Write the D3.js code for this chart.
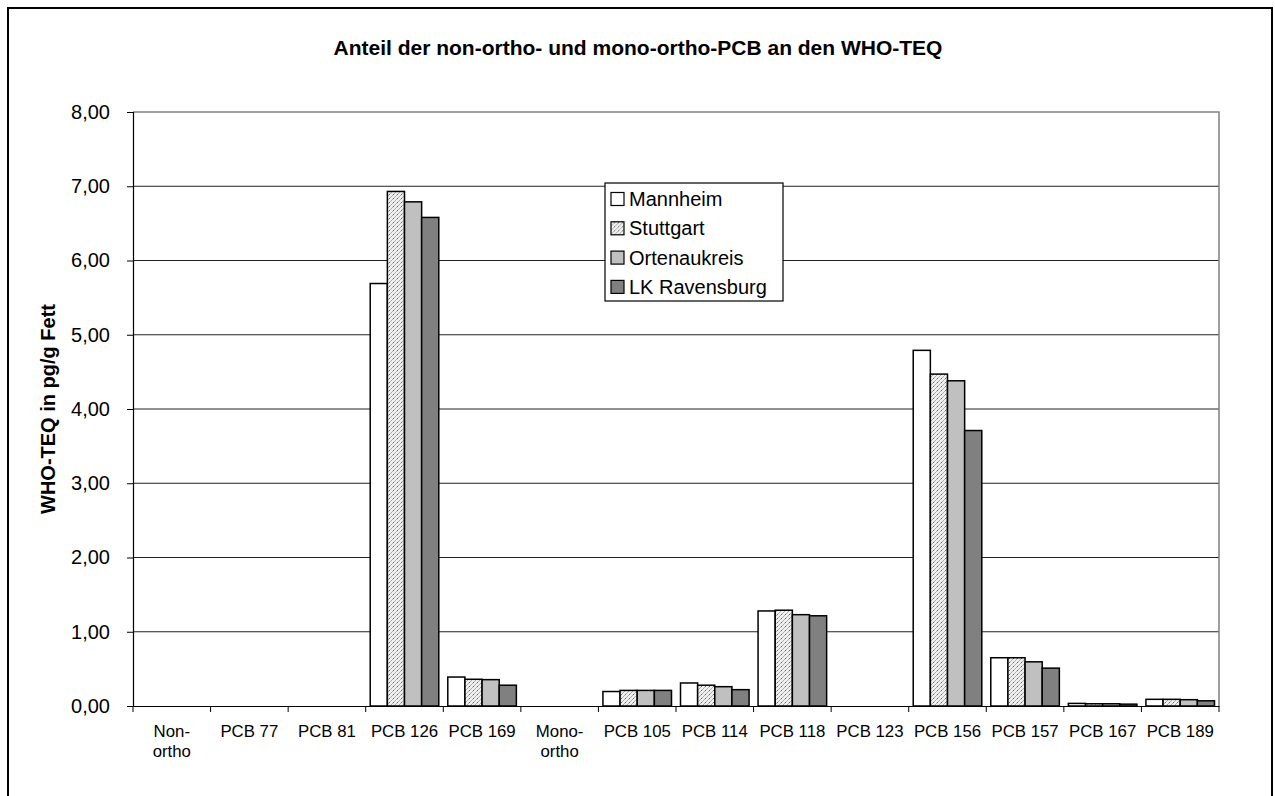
<!DOCTYPE html>
<html>
<head>
<meta charset="utf-8">
<script src="https://cdn.jsdelivr.net/npm/d3@7"></script>
<style>
  html, body { margin: 0; padding: 0; background: #fff; }
  svg { display: block; font-family: "Liberation Sans", Arial, sans-serif; }
</style>
</head>
<body>
<svg id="chart" width="1275" height="796"></svg>
<script>
// Congeners on the x axis (labels with "\n" wrap to two lines)
const categories = ["Non-\northo", "PCB 77", "PCB 81", "PCB 126", "PCB 169", "Mono-\northo",
  "PCB 105", "PCB 114", "PCB 118", "PCB 123", "PCB 156", "PCB 157", "PCB 167", "PCB 189"];
const seriesNames = ["Mannheim", "Stuttgart", "Ortenaukreis", "LK Ravensburg"];

// WHO-TEQ in pg/g Fett per region (null = no value)
const mannheim     = [null, null, null, 5.69, 0.39, null, 0.195, 0.31, 1.28, null, 4.79, 0.65, 0.035, 0.09];
const stuttgart    = [null, null, null, 6.93, 0.36, null, 0.21, 0.28, 1.29, null, 4.47, 0.65, 0.03, 0.09];
const ortenaukreis = [null, null, null, 6.79, 0.355, null, 0.21, 0.26, 1.23, null, 4.38, 0.595, 0.03, 0.085];
const ravensburg   = [null, null, null, 6.58, 0.28, null, 0.21, 0.22, 1.215, null, 3.71, 0.51, 0.025, 0.07];
const seriesValues = [mannheim, stuttgart, ortenaukreis, ravensburg];

const yTicks = [0, 1, 2, 3, 4, 5, 6, 7, 8];
const fmt = v => v.toFixed(2).replace(".", ",");

const svg = d3.select("#chart");

// Fine dotted hatch fill for Stuttgart
const defs = svg.append("defs");
const pat = defs.append("pattern").attr("id", "hatch")
  .attr("patternUnits", "userSpaceOnUse").attr("width", 4).attr("height", 4);
pat.append("rect").attr("width", 4).attr("height", 4).attr("fill", "#f0f0f0");
pat.append("path").attr("d", "M-1,1 L1,-1 M0,4 L4,0 M3,5 L5,3")
  .attr("stroke", "#a6a6a6").attr("stroke-width", 0.9);
pat.append("rect").attr("x", 1).attr("y", 2).attr("width", 1).attr("height", 1).attr("fill", "#666");

const fills = ["#ffffff", "url(#hatch)", "#c0c0c0", "#808080"];

// Outer chart frame
svg.append("rect").attr("x", 8).attr("y", 8).attr("width", 1264).attr("height", 820)
  .attr("fill", "none").attr("stroke", "#000").attr("stroke-width", 2);

const plot = { left: 133, right: 1219, top: 112, bottom: 706 };

const x = d3.scaleBand().domain(categories).range([plot.left, plot.right]).padding(0);
const xs = d3.scaleBand().domain(seriesNames).range([4.5, x.bandwidth() - 4.5]).padding(0);
const y = d3.scaleLinear().domain([0, 8]).range([plot.bottom, plot.top]);

// Gridlines
svg.append("g").selectAll("line").data(yTicks.filter(t => t > 0 && t < 8)).join("line")
  .attr("x1", plot.left).attr("x2", plot.right)
  .attr("y1", d => y(d)).attr("y2", d => y(d))
  .attr("stroke", "#222").attr("stroke-width", 1);

// Plot border (top / right)
svg.append("path")
  .attr("d", `M${plot.left},${plot.top}H${plot.right}V${plot.bottom}`)
  .attr("fill", "none").attr("stroke", "#808080").attr("stroke-width", 1.5);

// Bars
const barData = [];
seriesValues.forEach((vals, si) => vals.forEach((v, ci) => {
  if (v != null) barData.push({ s: seriesNames[si], si, c: categories[ci], v });
}));
svg.append("g").selectAll("rect").data(barData).join("rect")
  .attr("x", d => x(d.c) + xs(d.s))
  .attr("y", d => y(d.v))
  .attr("width", xs.bandwidth())
  .attr("height", d => y(0) - y(d.v))
  .attr("fill", d => fills[d.si])
  .attr("stroke", "#000").attr("stroke-width", 1.5);

// Y axis
const yAxis = svg.append("g").attr("transform", `translate(${plot.left},0)`)
  .call(d3.axisLeft(y).tickValues(yTicks).tickFormat(fmt).tickSize(6).tickPadding(17));
yAxis.select(".domain").attr("stroke", "#000").attr("stroke-width", 1.2);
yAxis.selectAll(".tick line").attr("stroke", "#000");
yAxis.selectAll(".tick text").attr("font-size", 20).attr("fill", "#000")
  .attr("font-family", "Liberation Sans, Arial, sans-serif");

// X axis
const xAxis = svg.append("g").attr("transform", `translate(0,${plot.bottom})`)
  .call(d3.axisBottom(x).tickSize(0).tickFormat(""));
xAxis.select(".domain").attr("stroke", "#000").attr("stroke-width", 1.2);
xAxis.selectAll(".tick").remove();
const bounds = categories.map(c => x(c)).concat([plot.right]);
svg.append("g").selectAll("line").data(bounds).join("line")
  .attr("x1", d => d).attr("x2", d => d)
  .attr("y1", plot.bottom).attr("y2", plot.bottom + 6)
  .attr("stroke", "#000").attr("stroke-width", 1);

const catLabels = svg.append("g").selectAll("text").data(categories).join("text")
  .attr("x", d => x(d) + x.bandwidth() / 2)
  .attr("y", 737)
  .attr("text-anchor", "middle").attr("font-size", 16.8).attr("fill", "#000");
catLabels.each(function (d) {
  const t = d3.select(this);
  d.split("\n").forEach((line, i) => {
    t.append("tspan").attr("x", x(d) + x.bandwidth() / 2).attr("dy", i === 0 ? 0 : 20).text(line);
  });
});

// Title
svg.append("text").attr("x", 638).attr("y", 55).attr("text-anchor", "middle")
  .attr("font-size", 21).attr("font-weight", "bold").attr("fill", "#000")
  .text("Anteil der non-ortho- und mono-ortho-PCB an den WHO-TEQ");

// Y axis title
svg.append("text").attr("transform", "translate(55,409) rotate(-90)")
  .attr("text-anchor", "middle").attr("font-size", 20).attr("font-weight", "bold")
  .attr("fill", "#000").text("WHO-TEQ in pg/g Fett");

// Legend
const legend = svg.append("g").attr("transform", "translate(605,183)");
legend.append("rect").attr("width", 178).attr("height", 118)
  .attr("fill", "#fff").attr("stroke", "#000").attr("stroke-width", 1.2);
const items = legend.selectAll("g").data(seriesNames).join("g")
  .attr("transform", (d, i) => `translate(0,${16 + i * 29.3})`);
items.append("rect").attr("x", 6).attr("y", -6.5).attr("width", 13).attr("height", 13)
  .attr("fill", (d, i) => fills[i]).attr("stroke", "#000").attr("stroke-width", 1.2);
items.append("text").attr("x", 24).attr("dy", "0.35em").attr("font-size", 20)
  .attr("fill", "#000").text(d => d);
</script>
</body>
</html>
